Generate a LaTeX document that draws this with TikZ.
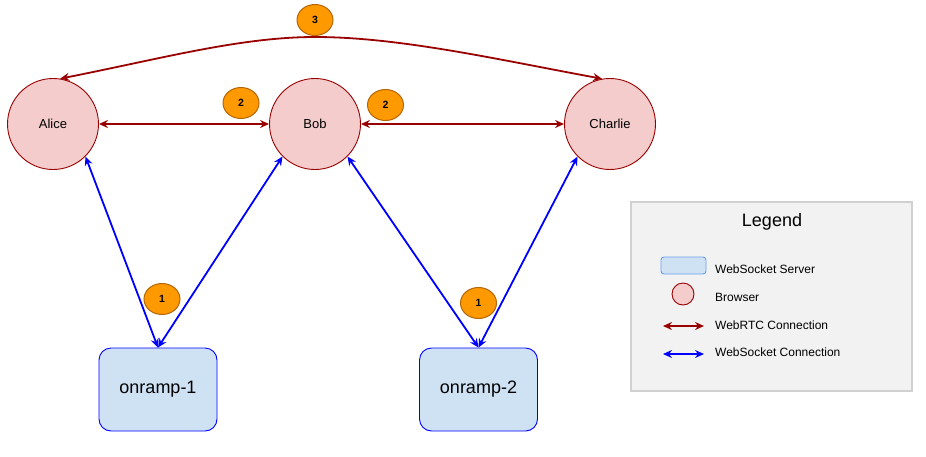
\documentclass[tikz,border=0pt]{standalone}
\usepackage{fontspec}
\setmainfont{Liberation Sans}
\usetikzlibrary{shapes.geometric,arrows.meta}
\definecolor{rtcred}{HTML}{990000}
\definecolor{wsblue}{HTML}{0000FF}
\definecolor{browserfill}{HTML}{F4CCCC}
\definecolor{serverfill}{HTML}{CFE2F3}
\definecolor{serverline}{HTML}{6D9EEB}
\definecolor{badgefill}{HTML}{FF9900}
\definecolor{badgeline}{HTML}{B46504}
\definecolor{legfill}{HTML}{F2F2F2}
\definecolor{legline}{HTML}{D0D0D0}
\tikzset{
  browser/.style={circle, draw=rtcred, line width=0.9pt, fill=browserfill, minimum size=91pt, inner sep=0pt, font=\fontsize{13}{15}\selectfont},
  server/.style={rectangle, rounded corners=12pt, draw=wsblue, line width=0.9pt, fill=serverfill, minimum width=118pt, minimum height=83pt, inner sep=0pt, font=\fontsize{18}{21}\selectfont},
  badge/.style={ellipse, draw=badgeline, line width=1pt, fill=badgefill, minimum width=36pt, minimum height=31pt, inner sep=0pt, font=\fontsize{10.5}{12}\selectfont\bfseries},
  tip/.style={Stealth[length=9pt, width=8pt, inset=3pt]},
  webrtc/.style={draw=rtcred, line width=1.8pt, {Stealth[length=9pt, width=8pt, inset=3pt]}-{Stealth[length=9pt, width=8pt, inset=3pt]}},
  websock/.style={draw=wsblue, line width=1.8pt, {Stealth[length=9pt, width=8pt, inset=3pt]}-{Stealth[length=9pt, width=8pt, inset=3pt]}},
  legtext/.style={anchor=west, inner sep=0pt, font=\fontsize{12}{14}\selectfont},
}
\begin{document}
\begin{tikzpicture}[x=1pt, y=-1pt]
\useasboundingbox (0,0) rectangle (926,456);
% browsers
\node[browser] (alice) at (53,124) {Alice};
\node[browser] (bob) at (315,124) {Bob};
\node[browser] (charlie) at (610,124) {Charlie};
% servers
\node[server] (o1) at (158,389.5) {onramp-1};
\node[server] (o2) at (478.5,389.5) {onramp-2};
% webrtc connections
\draw[webrtc] (alice) -- (bob);
\draw[webrtc] (bob) -- (charlie);
\coordinate (peak) at (315,37);
\draw[webrtc] (alice.81) .. controls (160,59) and (240,37) .. (peak) .. controls (400,37) and (500,60) .. (charlie.100);
% websocket connections
\draw[websock] (alice.-45) -- (o1.north);
\draw[websock] (bob.-135) -- (o1.north);
\draw[websock] (bob.-45) -- (o2.north);
\draw[websock] (charlie.-135) -- (o2.north);
% badges
\node[badge] (b3) at (315,20) {3};
\node[badge] (b2a) at (241,103) {2};
\node[badge] (b2b) at (385.5,105) {2};
\node[badge] (b1a) at (162,299) {1};
\node[badge] (b1b) at (478.5,303) {1};
% legend
\node[rectangle, draw=legline, fill=legfill, line width=1.2pt, minimum width=281pt, minimum height=189pt, inner sep=0pt] (legend) at (771.5,296.5) {};
\node[font=\fontsize{18}{21}\selectfont, inner sep=0pt] (legtitle) at (772,222) {Legend};
\node[rectangle, rounded corners=3pt, draw=serverline, fill=serverfill, line width=0.9pt, minimum width=45pt, minimum height=17pt, inner sep=0pt] (lsrv) at (683.5,265.5) {};
\node[circle, draw=rtcred, fill=browserfill, line width=0.9pt, minimum size=22pt, inner sep=0pt] (lbrw) at (683,294) {};
\coordinate (lr1) at (663,326);
\coordinate (lr2) at (704,326);
\draw[webrtc] (lr1) -- (lr2);
\coordinate (lb1) at (663,354);
\coordinate (lb2) at (704,354);
\draw[websock] (lb1) -- (lb2);
\node[legtext] (t1) at (715,269) {WebSocket Server};
\node[legtext] (t2) at (715,297) {Browser};
\node[legtext] (t3) at (715,325) {WebRTC Connection};
\node[legtext] (t4) at (715,352.5) {WebSocket Connection};
\end{tikzpicture}
\end{document}
